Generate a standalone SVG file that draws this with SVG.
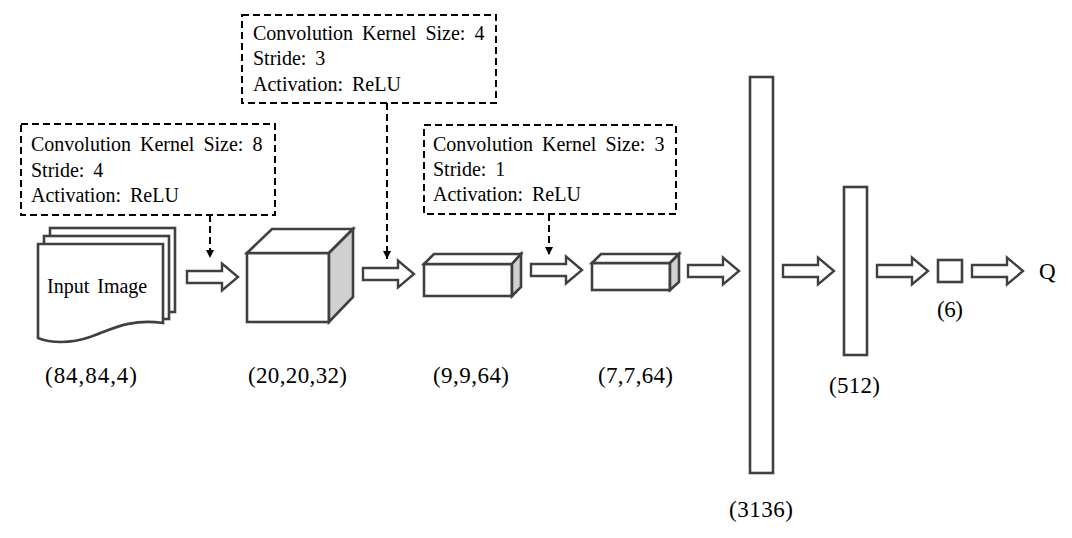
<svg xmlns="http://www.w3.org/2000/svg" width="1072" height="538" viewBox="0 0 1072 538">
<style>
.sh{fill:#fff;stroke:#404040;stroke-width:2.6;stroke-linejoin:miter}
.side{fill:#d0d0d0;stroke:#404040;stroke-width:2.6}
.arr{fill:#fff;stroke:#404040;stroke-width:2.4}
.box{fill:none;stroke:#000;stroke-width:2;stroke-dasharray:7,4}
.dl{fill:none;stroke:#000;stroke-width:2;stroke-dasharray:7,4}
.t{font-family:"Liberation Serif","Times New Roman",serif;font-size:20px;fill:#000;word-spacing:4px}
.l{font-family:"Liberation Serif","Times New Roman",serif;font-size:23px;fill:#000}
</style>
<defs>
<marker id="ah" markerWidth="8" markerHeight="8" refX="8" refY="4" orient="auto" markerUnits="userSpaceOnUse">
<path d="M0,0 L8,4 L0,8 Z" fill="#000"/>
</marker>
<path id="ar" d="M0,-6 H35 V-13.5 L51,0 L35,13.5 V6 H0 Z"/>
</defs>
<rect width="1072" height="538" fill="#fff"/>

<g id="conv1">
<rect class="box" x="21" y="124" width="254" height="91"/>
<text class="t" x="31" y="151">Convolution Kernel Size: 8</text>
<text class="t" x="31" y="177">Stride: 4</text>
<text class="t" x="31" y="202">Activation: ReLU</text>
</g>
<g id="conv2">
<rect class="box" x="242" y="15" width="254" height="88"/>
<text class="t" x="253" y="40">Convolution Kernel Size: 4</text>
<text class="t" x="253" y="65">Stride: 3</text>
<text class="t" x="253" y="91">Activation: ReLU</text>
</g>
<g id="conv3">
<rect class="box" x="424" y="125" width="252" height="89"/>
<text class="t" x="433" y="151">Convolution Kernel Size: 3</text>
<text class="t" x="433" y="176">Stride: 1</text>
<text class="t" x="433" y="201">Activation: ReLU</text>
</g>

<g id="input">
<rect class="sh" x="50" y="228" width="125" height="84"/>
<rect class="sh" x="44" y="236" width="125" height="83"/>
<path class="sh" d="M38,244 H163 V323 C130,318 110,330 90,337 C70,344 50,343 38,338 Z"/>
<text class="t" x="47" y="293" style="word-spacing:3px">Input Image</text>
</g>

<g id="cube1">
<rect class="sh" x="247" y="253" width="82" height="69"/>
<polygon class="sh" points="247,253 272,229 353,229 329,253"/>
<polygon class="side" points="329,253 353,229 353,297 329,322"/>
</g>
<g id="box2">
<rect class="sh" x="424" y="264" width="88" height="32"/>
<polygon class="sh" points="424,264 434,254 521,254 512,264"/>
<polygon class="side" points="512,264 521,254 521,287 512,296"/>
</g>
<g id="box3">
<rect class="sh" x="592" y="263" width="78" height="27"/>
<polygon class="sh" points="592,263 601,254 679,254 670,263"/>
<polygon class="side" points="670,263 679,254 679,282 670,290"/>
</g>
<g id="fc3136"><rect class="sh" x="750" y="77" width="23" height="396"/></g>
<g id="fc512"><rect class="sh" x="844" y="187" width="23" height="168"/></g>
<g id="out6"><rect class="sh" x="938" y="260" width="24" height="22"/></g>

<g id="labels">
<text class="l" x="45" y="383" textLength="92" lengthAdjust="spacing">(84,84,4)</text>
<text class="l" x="248" y="383" textLength="99" lengthAdjust="spacing">(20,20,32)</text>
<text class="l" x="433" y="383" textLength="76" lengthAdjust="spacing">(9,9,64)</text>
<text class="l" x="598" y="383" textLength="75" lengthAdjust="spacing">(7,7,64)</text>
<text class="l" x="729" y="517" textLength="64" lengthAdjust="spacing">(3136)</text>
<text class="l" x="829" y="393" textLength="51" lengthAdjust="spacing">(512)</text>
<text class="l" x="937" y="317" textLength="26" lengthAdjust="spacing">(6)</text>
<text class="l" x="1039" y="279">Q</text>
</g>

<g id="connectors">
<use href="#ar" class="arr" transform="translate(187,277)"/>
<use href="#ar" class="arr" transform="translate(363,274)"/>
<use href="#ar" class="arr" transform="translate(531,270)"/>
<use href="#ar" class="arr" transform="translate(688,271)"/>
<use href="#ar" class="arr" transform="translate(783,271)"/>
<use href="#ar" class="arr" transform="translate(877,271)"/>
<use href="#ar" class="arr" transform="translate(972,271)"/>
<line class="dl" x1="210" y1="215" x2="210" y2="258" marker-end="url(#ah)"/>
<line class="dl" x1="387" y1="103" x2="387" y2="259" marker-end="url(#ah)"/>
<line class="dl" x1="549" y1="214" x2="549" y2="255" marker-end="url(#ah)"/>
</g>
</svg>
